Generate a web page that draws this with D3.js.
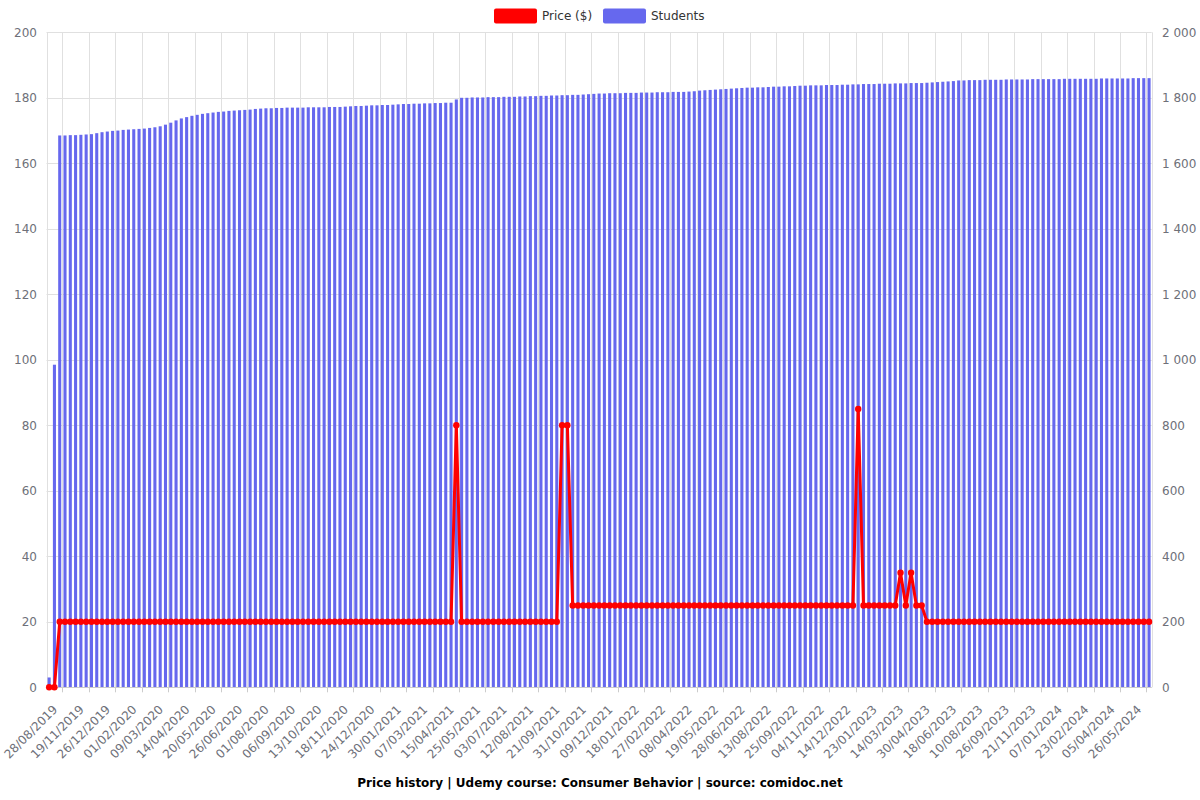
<!DOCTYPE html>
<html>
<head>
<meta charset="utf-8">
<script src="https://cdn.jsdelivr.net/npm/d3@7/dist/d3.min.js"></script>
<style>
  html, body { margin: 0; padding: 0; background: #fff; }
  svg { display: block; font-family: "DejaVu Sans", sans-serif; }
</style>
</head>
<body>
<svg id="chart" width="1200" height="800"></svg>
<script>
// ---- DATA ----
const tickLabels = ["28/08/2019","19/11/2019","26/12/2019","01/02/2020","09/03/2020","14/04/2020","20/05/2020","26/06/2020","01/08/2020","06/09/2020","13/10/2020","18/11/2020","24/12/2020","30/01/2021","07/03/2021","15/04/2021","25/05/2021","03/07/2021","12/08/2021","21/09/2021","31/10/2021","09/12/2021","18/01/2022","27/02/2022","08/04/2022","19/05/2022","28/06/2022","13/08/2022","25/09/2022","04/11/2022","14/12/2022","23/01/2023","14/03/2023","30/04/2023","18/06/2023","10/08/2023","26/09/2023","21/11/2023","07/01/2024","23/02/2024","05/04/2024","26/05/2024"];

const priceValues = [
  0,0,
  20,20,20,20,20,20,20,20,20,20,20,20,20,20,20,20,20,20,20,20,20,20,20,20,20,
  20,20,20,20,20,20,20,20,20,20,20,20,20,20,20,20,20,20,20,20,20,20,20,20,20,
  20,20,20,20,20,20,20,20,20,20,20,20,20,20,20,20,20,20,20,20,20,20,20,20,20,
  80,
  20,20,20,20,20,20,20,20,20,20,20,20,20,20,20,20,20,20,20,
  80,80,
  25,25,25,25,25,25,25,25,25,25,25,25,25,25,25,25,25,25,25,25,25,25,25,25,25,25,25,
  25,25,25,25,25,25,25,25,25,25,25,25,25,25,25,25,25,25,25,25,25,25,25,25,25,25,25,
  85,
  25,25,25,25,25,25,25,
  35,25,35,25,25,
  20,20,20,20,20,20,20,20,20,20,20,20,20,20,20,20,20,20,20,20,20,20,
  20,20,20,20,20,20,20,20,20,20,20,20,20,20,20,20,20,20,20,20,20
];

const studentValues = [
  30,985,
  1685,1685,1686,1686,1687,1688,1689,
  1692,1695,1697,1699,
  1700,1702,1703,1704,1705,
  1706,1708,1710,1713,
  1718,1724,1731,
  1737,1741,1745,1748,1751,
  1753,1755,1757,1758,1760,
  1761,1762,1763,1764,1766,
  1767,1768,1768,1769,1769,1770,
  1770,1770,1770,1771,1771,1771,1771,1772,1772,1772,1773,
  1774,1775,1775,1776,1777,1777,1778,1778,1779,1780,
  1781,1781,1782,1782,1783,1783,1784,1784,1785,1785,
  1795,
  1800,1800,1801,1801,1801,1802,1802,1802,1803,1803,1803,
  1804,1804,1805,1805,1806,1806,1807,1807,1808,1808,1809,1809,1810,1811,1812,
  1813,1813,1814,1814,1814,1815,1815,1815,1816,1816,1816,1817,1817,1817,1818,1818,1818,1819,1820,
  1822,1823,1824,1825,1826,1827,1828,1829,1830,
  1831,1831,1832,1832,1833,1834,1834,1835,1835,1836,
  1837,1837,1838,1838,1838,1839,1839,1839,1840,1840,1841,
  1841,1842,1842,1842,1843,1843,1843,1844,1844,1844,1845,1845,1845,1846,
  1847,1848,1849,1850,1851,1853,
  1853,1854,1854,1854,1855,1855,1855,1855,1856,1856,1856,1856,1856,1857,1857,1857,1857,1857,1857,
  1858,1858,1858,1858,1858,1858,1858,1859,1859,1859,1859,1859,1859,1860,1860,1860,1860
];

const priceTicks = [0,20,40,60,80,100,120,140,160,180,200];
const studentTicks = [0,200,400,600,800,1000,1200,1400,1600,1800,2000];
const seriesNames = ["Price ($)", "Students"];
const titleText = "Price history | Udemy course: Consumer Behavior | source: comidoc.net";

// ---- LAYOUT ----
const svg = d3.select("#chart");
const margin = { left: 46.5, right: 1151.7, top: 32.3, bottom: 687.3 };
const N = studentValues.length;
const idx = d3.range(N);

const x = d3.scaleBand().domain(idx).range([margin.left, margin.right]).paddingInner(0.42).paddingOuter(0.21);
const step = (margin.right - margin.left) / N;
const yL = d3.scaleLinear().domain([0, 200]).range([margin.bottom, margin.top]);
const yR = d3.scaleLinear().domain([0, 2000]).range([margin.bottom, margin.top]);

const gridColor = "#e0e0e0";
const labelColor = "#6e7079";
const priceColor = "#ff0000";
const studentColor = "#6668ee";

// horizontal grid
svg.append("g").selectAll("line").data(priceTicks).join("line")
  .attr("x1", margin.left).attr("x2", margin.right)
  .attr("y1", d => Math.round(yL(d)) + 0.5).attr("y2", d => Math.round(yL(d)) + 0.5)
  .attr("stroke", gridColor).attr("stroke-width", 1);

// vertical grid at tick positions (boundary of category 3 + 5j)
const tickIdx = tickLabels.map((_, j) => 3 + 5 * j);
const tickX = i => margin.left + i * step;
svg.append("g").selectAll("line").data(tickIdx).join("line")
  .attr("x1", d => Math.round(tickX(d)) + 0.5).attr("x2", d => Math.round(tickX(d)) + 0.5)
  .attr("y1", margin.top).attr("y2", margin.bottom)
  .attr("stroke", gridColor).attr("stroke-width", 1);

// side lines
[margin.left, margin.right].forEach(xx => {
  svg.append("line").attr("x1", Math.round(xx) + 0.5).attr("x2", Math.round(xx) + 0.5)
    .attr("y1", margin.top).attr("y2", margin.bottom)
    .attr("stroke", gridColor);
});

// bars
svg.append("g").selectAll("rect").data(studentValues).join("rect")
  .attr("x", (d, i) => x(i))
  .attr("width", x.bandwidth())
  .attr("y", d => yR(d))
  .attr("height", d => yR(0) - yR(d))
  .attr("fill", studentColor);

// x axis line + ticks
svg.append("line").attr("x1", margin.left).attr("x2", margin.right)
  .attr("y1", Math.round(margin.bottom) + 0.5).attr("y2", Math.round(margin.bottom) + 0.5)
  .attr("stroke", "#cccccc");
svg.append("g").selectAll("line").data(tickIdx).join("line")
  .attr("x1", d => Math.round(tickX(d)) + 0.5).attr("x2", d => Math.round(tickX(d)) + 0.5)
  .attr("y1", margin.bottom).attr("y2", margin.bottom + 5)
  .attr("stroke", "#cccccc");

// x labels
svg.append("g").selectAll("text").data(tickLabels).join("text")
  .attr("transform", (d, j) => {
    const cx = x(5 * j) + x.bandwidth() / 2;
    return `translate(${cx + 6},${margin.bottom + 20}) rotate(-45)`;
  })
  .attr("text-anchor", "end")
  .attr("dy", "0.35em")
  .attr("font-size", 12)
  .attr("fill", labelColor)
  .text(d => d);

// price line
const line = d3.line().x((d, i) => x(i) + x.bandwidth() / 2).y(d => yL(d));
svg.append("path").datum(priceValues)
  .attr("d", line).attr("fill", "none")
  .attr("stroke", priceColor).attr("stroke-width", 3).attr("stroke-linejoin", "round");
svg.append("g").selectAll("circle").data(priceValues).join("circle")
  .attr("cx", (d, i) => x(i) + x.bandwidth() / 2)
  .attr("cy", d => yL(d))
  .attr("r", 3.2)
  .attr("fill", priceColor);

// left y labels
svg.append("g").selectAll("text").data(priceTicks).join("text")
  .attr("x", 37).attr("y", d => yL(d)).attr("dy", "0.35em")
  .attr("text-anchor", "end").attr("font-size", 12).attr("fill", labelColor)
  .text(d => d);

// right y labels
const fmt = d3.formatLocale({ decimal: ".", thousands: " ", grouping: [3], currency: ["", ""] }).format(",");
svg.append("g").selectAll("text").data(studentTicks).join("text")
  .attr("x", 1162).attr("y", d => yR(d)).attr("dy", "0.35em")
  .attr("text-anchor", "start").attr("font-size", 12).attr("fill", labelColor)
  .text(d => fmt(d));

// legend
const legend = svg.append("g");
const legItems = [
  { name: seriesNames[0], color: priceColor, x: 494 },
  { name: seriesNames[1], color: studentColor, x: 603 }
];
legItems.forEach(it => {
  legend.append("rect").attr("x", it.x).attr("y", 8.5).attr("width", 43).attr("height", 15)
    .attr("rx", 2).attr("fill", it.color);
  legend.append("text").attr("x", it.x + 48).attr("y", 16).attr("dy", "0.35em")
    .attr("font-size", 12).attr("fill", "#333").text(it.name);
});

// title
svg.append("text").attr("x", 600).attr("y", 783).attr("dy", "0.35em")
  .attr("text-anchor", "middle").attr("font-size", 12).attr("font-weight", "bold")
  .attr("fill", "#000").text(titleText);
</script>
</body>
</html>
